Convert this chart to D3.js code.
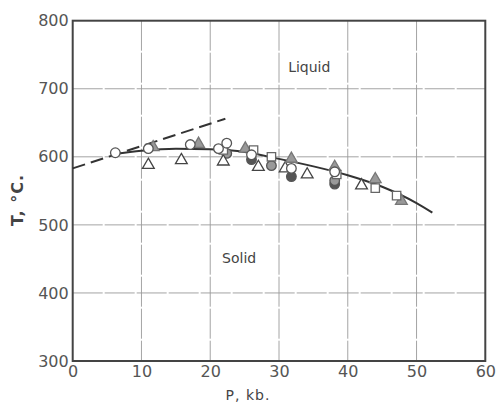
<!DOCTYPE html>
<html>
<head>
<meta charset="utf-8">
<script src="https://cdn.jsdelivr.net/npm/d3@7"></script>
<style>
	body { margin: 0; background: #fff; }
	.tick text { font-family: "DejaVu Sans", sans-serif; font-size: 16px; fill: #555; }
	.grid line { stroke: #9a9a9a; stroke-width: 0.9; stroke-dasharray: 30,2; }
	.frame { fill: none; stroke: #444; stroke-width: 2; }
	.label { font-family: "DejaVu Sans", sans-serif; fill: #444; }
</style>
</head>
<body>
<div id="chart"></div>
<script>
//Axis ticks
var xTicks = [0, 10, 20, 30, 40, 50, 60];
var yTicks = [300, 400, 500, 600, 700, 800];

//Melting curve (solid)
var curveP = [6, 10, 15, 20, 25, 30, 35, 40, 45, 50, 52.3];
var curveT = [604, 609, 612, 611, 607, 597, 586, 573, 556, 532, 518];

//Extrapolated initial slope (dashed)
var dashP = [0, 22.2];
var dashT = [583, 656];

//Experimental points, [P kb, T C]
var openCircles = [[6.2, 606], [11.0, 612], [17.1, 618], [21.2, 612], [22.4, 620], [26.0, 603], [31.8, 583], [38.1, 578]];
var grayCircles = [[22.4, 605], [28.9, 587], [38.1, 565]];
var darkCircles = [[26.0, 596], [31.8, 571], [38.1, 560]];
var openTriangles = [[11.0, 588], [15.8, 595], [21.9, 593], [27.0, 585], [30.9, 583], [34.1, 574], [42.0, 558]];
var grayTriangles = [[11.7, 614], [18.3, 619], [25.1, 612], [31.8, 597], [38.1, 585], [44.0, 567], [47.8, 535]];
var openSquares = [[21.9, 610], [26.3, 610], [28.9, 600], [38.4, 574], [44.0, 554], [47.1, 543]];

var margin = { top: 20.7, right: 12.7, bottom: 42, left: 72.7 };
var width = 498 - margin.left - margin.right;
var height = 403 - margin.top - margin.bottom;

var svg = d3.select('#chart')
	.append('svg')
	.attr('width', 498)
	.attr('height', 403)
	.append('g')
	.attr('transform', 'translate(' + margin.left + ',' + margin.top + ')');

//Scales
var x = d3.scaleLinear().domain([0, 60]).range([0, width]);
var y = d3.scaleLinear().domain([300, 800]).range([height, 0]);

//Grid
svg.append('g')
	.attr('class', 'grid')
	.selectAll('line.v')
	.data(xTicks.slice(1, -1))
	.enter().append('line')
	.attr('x1', function(d) { return x(d); })
	.attr('x2', function(d) { return x(d); })
	.attr('y1', 0)
	.attr('y2', height);
svg.select('.grid')
	.selectAll('line.h')
	.data(yTicks.slice(1, -1))
	.enter().append('line')
	.attr('x1', 0)
	.attr('x2', width)
	.attr('y1', function(d) { return y(d); })
	.attr('y2', function(d) { return y(d); });

//Axes (labels only, frame drawn separately)
svg.append('g')
	.attr('class', 'x axis')
	.attr('transform', 'translate(0,' + height + ')')
	.call(d3.axisBottom(x).tickValues(xTicks).tickSize(0).tickPadding(5))
	.call(function(g) { g.select('.domain').remove(); });

svg.append('g')
	.attr('class', 'y axis')
	.call(d3.axisLeft(y).tickValues(yTicks).tickSize(0).tickPadding(4))
	.call(function(g) { g.select('.domain').remove(); });

svg.append('rect')
	.attr('class', 'frame')
	.attr('width', width)
	.attr('height', height);

//Lines
var line = d3.line()
	.x(function(d) { return x(d[0]); })
	.y(function(d) { return y(d[1]); });

svg.append('path')
	.datum(dashP.map(function(p, i) { return [p, dashT[i]]; }))
	.attr('d', line)
	.attr('fill', 'none')
	.attr('stroke', '#333')
	.attr('stroke-width', 2)
	.attr('stroke-dasharray', '13,6');

svg.append('path')
	.datum(curveP.map(function(p, i) { return [p, curveT[i]]; }))
	.attr('d', line.curve(d3.curveMonotoneX))
	.attr('fill', 'none')
	.attr('stroke', '#333')
	.attr('stroke-width', 2);

//Markers
var tri = d3.symbol().type(d3.symbolTriangle).size(60);
var sq = d3.symbol().type(d3.symbolSquare).size(70);

function marks(data, path, fill, stroke) {
	svg.append('g')
		.selectAll('path')
		.data(data)
		.enter().append('path')
		.attr('transform', function(d) { return 'translate(' + x(d[0]) + ',' + y(d[1]) + ')'; })
		.attr('d', path)
		.attr('fill', fill)
		.attr('stroke', stroke)
		.attr('stroke-width', 1.3);
}
function circles(data, fill) {
	svg.append('g')
		.selectAll('circle')
		.data(data)
		.enter().append('circle')
		.attr('cx', function(d) { return x(d[0]); })
		.attr('cy', function(d) { return y(d[1]); })
		.attr('r', 4.8)
		.attr('fill', fill)
		.attr('stroke', '#555')
		.attr('stroke-width', 1.3);
}
circles(darkCircles, '#555');
circles(grayCircles, '#999');
marks(openTriangles, tri, '#fff', '#444');
marks(grayTriangles, tri, '#999', '#777');
marks(openSquares, sq, '#fff', '#666');
circles(openCircles, '#fff');

//Region labels
svg.append('text').attr('class', 'label')
	.attr('x', x(34.4)).attr('y', y(724))
	.attr('text-anchor', 'middle').attr('font-size', 14)
	.text('Liquid');
svg.append('text').attr('class', 'label')
	.attr('x', x(24.2)).attr('y', y(444))
	.attr('text-anchor', 'middle').attr('font-size', 14)
	.text('Solid');

//Axis titles
svg.append('text').attr('class', 'label')
	.attr('transform', 'translate(' + (16.7 - margin.left + 6) + ',' + (200 - margin.top) + ') rotate(-90)')
	.attr('text-anchor', 'middle').attr('font-size', 16).attr('letter-spacing', 1)
	.attr('font-weight', 'bold').attr('fill', '#555')
	.text('T, °C.');
svg.append('text').attr('class', 'label')
	.attr('x', 248 - margin.left).attr('y', 403 - margin.top - 3)
	.attr('text-anchor', 'middle').attr('font-size', 14).attr('letter-spacing', 1)
	.text('P, kb.');
</script>
</body>
</html>
